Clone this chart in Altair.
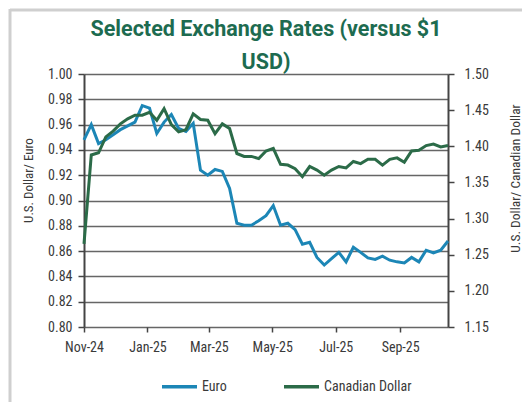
import altair as alt
import pandas as pd

dates = [
    "2024/11/01", "2024/11/08", "2024/11/15", "2024/11/22", "2024/11/29",
    "2024/12/06", "2024/12/13", "2024/12/20", "2024/12/27",
    "2025/01/03", "2025/01/10", "2025/01/17", "2025/01/24", "2025/01/31",
    "2025/02/07", "2025/02/14", "2025/02/21", "2025/02/28",
    "2025/03/07", "2025/03/14", "2025/03/21", "2025/03/28",
    "2025/04/04", "2025/04/11", "2025/04/18", "2025/04/25",
    "2025/05/02", "2025/05/09", "2025/05/16", "2025/05/23", "2025/05/30",
    "2025/06/06", "2025/06/13", "2025/06/20", "2025/06/27",
    "2025/07/04", "2025/07/11", "2025/07/18", "2025/07/25",
    "2025/08/01", "2025/08/08", "2025/08/15", "2025/08/22", "2025/08/29",
    "2025/09/05", "2025/09/12", "2025/09/19", "2025/09/26",
    "2025/10/03", "2025/10/10", "2025/10/17",
]

euro = [
    0.948, 0.960, 0.945, 0.948, 0.952, 0.956, 0.959, 0.962, 0.975, 0.973,
    0.953, 0.962, 0.968, 0.957, 0.9545, 0.961, 0.924, 0.920, 0.9245, 0.923,
    0.9095, 0.882, 0.8805, 0.8805, 0.884, 0.888, 0.896, 0.8805, 0.882, 0.877,
    0.8655, 0.867, 0.855, 0.849, 0.854, 0.859, 0.8515, 0.863, 0.859, 0.8546,
    0.8534, 0.856, 0.8528, 0.8515, 0.8507, 0.855, 0.8515, 0.8607, 0.8586, 0.8607,
    0.868,
]

cad = [
    1.265, 1.388, 1.391, 1.413, 1.421, 1.431, 1.438, 1.443, 1.443, 1.447,
    1.436, 1.452, 1.430, 1.420, 1.423, 1.445, 1.437, 1.436, 1.4175, 1.431,
    1.4245, 1.390, 1.386, 1.386, 1.383, 1.3935, 1.397, 1.375, 1.374, 1.369,
    1.358, 1.372, 1.367, 1.360, 1.367, 1.372, 1.370, 1.379, 1.376, 1.382,
    1.382, 1.374, 1.382, 1.384, 1.378, 1.3935, 1.3945, 1.401, 1.403, 1.399,
    1.401,
]

series_names = ["Euro", "Canadian Dollar"]
series_colors = ["#1c86b6", "#2b6b48"]
left_ticks = [0.80, 0.82, 0.84, 0.86, 0.88, 0.90, 0.92, 0.94, 0.96, 0.98, 1.00]
right_ticks = [1.15, 1.20, 1.25, 1.30, 1.35, 1.40, 1.45, 1.50]

df_euro = pd.DataFrame({"date": dates, "value": euro, "series": "Euro"})
df_cad = pd.DataFrame({"date": dates, "value": cad, "series": "Canadian Dollar"})

FONT = "Liberation Sans Narrow, Roboto Condensed, Roboto, sans-serif"
TITLE_FONT = "Roboto, sans-serif"
TXT = "#3a3a3a"

x_enc = alt.X(
    "date:T",
    scale=alt.Scale(domain=[alt.DateTime(year=2024, month=11, date=1),
                            alt.DateTime(year=2025, month=10, date=17)]),
    axis=alt.Axis(
        title=None,
        values=[alt.DateTime(year=2024, month=11, date=1),
                alt.DateTime(year=2025, month=1, date=1),
                alt.DateTime(year=2025, month=3, date=1),
                alt.DateTime(year=2025, month=5, date=1),
                alt.DateTime(year=2025, month=7, date=1),
                alt.DateTime(year=2025, month=9, date=1)],
        format="%b-%y",
        grid=False,
        domain=False,
        tickColor="#444444",
        tickWidth=1.5,
        tickSize=5,
        labelPadding=8,
        labelFlush=False,
        labelOverlap=False,
        labelFont=FONT,
        labelFontSize=14,
        labelColor=TXT,
    ),
)

color_enc = alt.Color(
    "series:N",
    scale=alt.Scale(domain=series_names, range=series_colors),
    legend=alt.Legend(
        title=None,
        orient="none",
        legendX=76,
        legendY=293,
        direction="horizontal",
        symbolType="stroke",
        symbolSize=1225,
        symbolStrokeWidth=3.5,
        labelFont=FONT,
        labelFontSize=14,
        labelColor=TXT,
        labelOffset=3,
        columnPadding=50,
    ),
)

euro_line = alt.Chart(df_euro).mark_line(strokeWidth=3).encode(
    x=x_enc,
    y=alt.Y(
        "value:Q",
        scale=alt.Scale(domain=[0.80, 1.00], nice=False, zero=False),
        axis=alt.Axis(
            title="U.S. Dollar/ Euro",
            values=left_ticks,
            format=".2f",
            grid=True,
            gridColor="#666666",
            gridWidth=1.6,
            domainColor="#444444",
            domainWidth=2,
            tickColor="#444444",
            tickWidth=1.5,
            tickSize=6,
            labelPadding=6,
            labelFont=FONT,
            labelFontSize=14,
            labelColor=TXT,
            titleFont=FONT,
            titleFontSize=13,
            titleFontWeight="normal",
            titleColor=TXT,
            titleX=-56,
            titleY=106,
            titleAngle=270,
            titleAlign="center",
            titleBaseline="middle",
        ),
    ),
    color=color_enc,
)

cad_line = alt.Chart(df_cad).mark_line(strokeWidth=3).encode(
    x=x_enc,
    y=alt.Y(
        "value:Q",
        scale=alt.Scale(domain=[1.15, 1.50], nice=False, zero=False),
        axis=alt.Axis(
            title="U.S. Dollar/ Canadian Dollar",
            orient="right",
            values=right_ticks,
            format=".2f",
            grid=False,
            domainColor="#444444",
            domainWidth=2,
            tickColor="#444444",
            tickWidth=1.5,
            tickSize=6,
            labelPadding=10,
            labelFont=FONT,
            labelFontSize=14,
            labelColor=TXT,
            titleFont=FONT,
            titleFontSize=13.5,
            titleFontWeight="normal",
            titleColor=TXT,
            titleX=67,
            titleY=104,
            titleAngle=270,
            titleAlign="center",
            titleBaseline="middle",
        ),
    ),
    color=color_enc,
)

frame_df = pd.DataFrame({"k": [0]})
frame_top = alt.Chart(frame_df).mark_rule(color="#cfcfcf", strokeWidth=3).encode(
    x=alt.value(-74), x2=alt.value(440), y=alt.value(-64)
)
frame_left = alt.Chart(frame_df).mark_rule(color="#cfcfcf", strokeWidth=3).encode(
    x=alt.value(-74), y=alt.value(-65), y2=alt.value(330)
)

chart = alt.layer(euro_line, cad_line, frame_top, frame_left).resolve_scale(
    y="independent"
).properties(
    width=364,
    height=253,
    autosize=alt.AutoSizeParams(type="none"),
    padding={"left": 84, "top": 74, "right": 74, "bottom": 75},
    title=alt.TitleParams(
        text=["Selected Exchange Rates (versus $1", "USD)"],
        font=TITLE_FONT,
        fontSize=21.5,
        fontWeight="bold",
        color="#1d6b50",
        anchor="middle",
        frame="group",
        lineHeight=33,
        offset=4,
        dy=70,
    ),
).configure_view(stroke=None).configure(background="white")

chart.save("out.html", embed_options={"renderer": "svg", "actions": False})
